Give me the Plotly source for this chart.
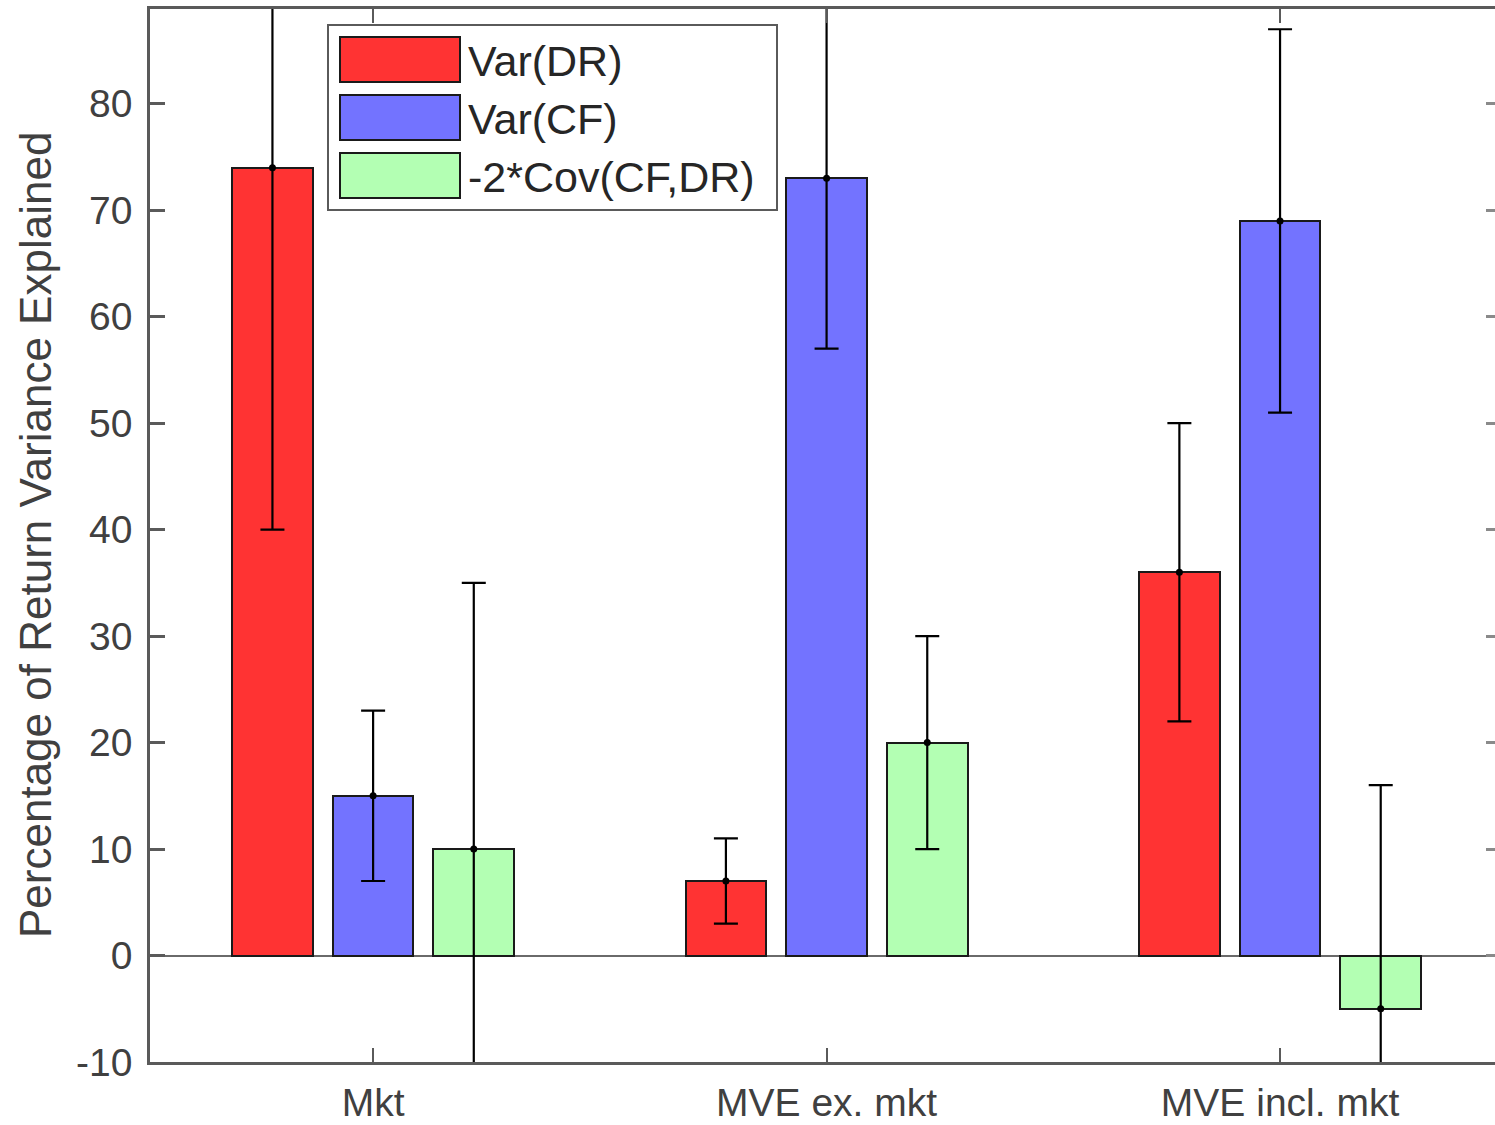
import plotly.graph_objects as go

# ---- data ----
categories = ["Mkt", "MVE ex. mkt", "MVE incl. mkt"]
series_names = ["Var(DR)", "Var(CF)", "-2*Cov(CF,DR)"]
var_dr = [74, 7, 36]
var_cf = [15, 73, 69]
cov_term = [10, 20, -5]
err_dr = [34, 4, 14]
err_cf = [8, 16, 18]
err_cov = [25, 10, 21]
y_ticks = [-10, 0, 10, 20, 30, 40, 50, 60, 70, 80]
y_tick_labels = [str(v) for v in y_ticks]

values = [var_dr, var_cf, cov_term]
errors = [err_dr, err_cf, err_cov]
colors = ["rgb(255,51,51)", "rgb(115,115,255)", "rgb(179,255,179)"]

W, H = 1495, 1125
L, R, T, B = 150, 0, 9, 63
PW, PH = W - L - R, H - T - B

def px(x):
    return (x - L) / PW

def py(y):
    return (H - B - y) / PH

group_pos = [1, 2, 3]
offsets = [-0.222, 0.0, 0.222]
bar_w = 0.178

fig = go.Figure()
for j in range(3):
    xs = [g + offsets[j] for g in group_pos]
    fig.add_trace(go.Bar(
        x=xs, y=values[j], width=bar_w, name=series_names[j],
        marker=dict(color=colors[j], line=dict(color="#1a1a1a", width=2)),
        showlegend=False,
    ))
for j in range(3):
    xs = [g + offsets[j] for g in group_pos]
    fig.add_trace(go.Scatter(
        x=xs, y=values[j], mode="markers",
        marker=dict(color="black", size=7),
        error_y=dict(type="data", array=errors[j], color="black", thickness=2.2, width=12),
        showlegend=False, hoverinfo="skip",
    ))
# invisible trace to activate right-side tick axis
fig.add_trace(go.Scatter(x=group_pos, y=var_dr, yaxis="y2", mode="markers",
                         marker=dict(opacity=0), showlegend=False, hoverinfo="skip"))

axis_col = "#5a5a5a"
FONT = "Liberation Sans, Arial, sans-serif"
tick_font = dict(family=FONT, size=39, color="#404040")

fig.update_layout(
    width=W, height=H,
    margin=dict(l=L, r=R, t=T, b=B, autoexpand=False),
    paper_bgcolor="white", plot_bgcolor="white",
    xaxis=dict(
        range=[0.508, 3.474], tickvals=group_pos, ticktext=categories,
        ticks="inside", ticklen=14, tickwidth=2.2, tickcolor=axis_col,
        showline=True, linecolor=axis_col, linewidth=2.5, mirror="ticks",
        showgrid=False, zeroline=False, tickfont=tick_font, ticklabelstandoff=4,
        automargin=False,
    ),
    yaxis=dict(
        range=[-10, 88.9], tickvals=y_ticks, ticktext=y_tick_labels,
        ticks="inside", ticklen=15, tickwidth=2.5, tickcolor=axis_col,
        showline=True, linecolor=axis_col, linewidth=2.5,
        showgrid=False, zeroline=True, zerolinecolor="#6a6a6a", zerolinewidth=2,
        tickfont=tick_font, ticklabelstandoff=7, automargin=False,
    ),
    yaxis2=dict(
        overlaying="y", side="right", matches="y", tickvals=y_ticks,
        ticks="inside", ticklen=9, tickwidth=2.5, tickcolor="#8a8a8a",
        showticklabels=False, showline=False, showgrid=False, zeroline=False,
        automargin=False,
    ),
    bargap=0,
)

# y-axis title
fig.add_annotation(
    xref="paper", yref="paper", x=px(35), y=py(535), text="Percentage of Return Variance Explained",
    textangle=-90, showarrow=False, xanchor="center", yanchor="middle",
    font=dict(family=FONT, size=44, color="#404040"),
)

# legend box
fig.add_shape(type="rect", xref="paper", yref="paper",
              x0=px(328), x1=px(777), y0=py(210), y1=py(25),
              line=dict(color="#5a5a5a", width=2), fillcolor="white", layer="above")
patch_tops = [37, 95, 153]
for j in range(3):
    t = patch_tops[j]
    fig.add_shape(type="rect", xref="paper", yref="paper",
                  x0=px(340), x1=px(460), y0=py(t + 45), y1=py(t),
                  line=dict(color="#1a1a1a", width=2), fillcolor=colors[j], layer="above")
    fig.add_annotation(xref="paper", yref="paper", x=px(466), y=py(t + 24),
                       text=series_names[j], showarrow=False, xanchor="left", yanchor="middle",
                       font=dict(family=FONT, size=43, color="#262626"))

fig.write_html(
    "out.html",
    config={"displayModeBar": False},
    post_script="document.body.style.margin='0';document.body.style.overflow='hidden';",
)
